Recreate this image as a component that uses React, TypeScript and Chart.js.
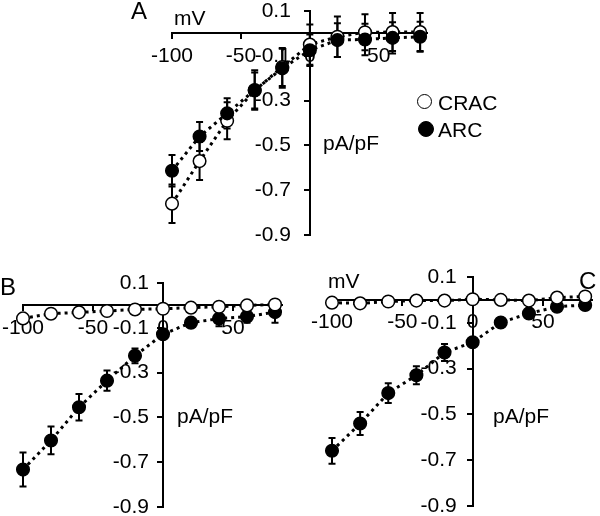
import React, { useEffect, useRef } from "react";
import { Chart, registerables } from "chart.js";

Chart.register(...registerables);

// ---------- data ----------
const voltages = [-100, -80, -60, -40, -20, 0, 20, 40, 60, 80];
const xTicks = [-100, -50, 0, 50];
const yTicks = [0.1, -0.1, -0.3, -0.5, -0.7, -0.9];
const seriesNames = ["CRAC", "ARC"];

// Panel A
const cracA = [-0.76, -0.57, -0.39, -0.255, -0.15, -0.05, -0.015, 0.005, 0.006, 0.006];
const cracAErr = [0.086, 0.085, 0.083, 0.08, 0.085, 0.09, 0.09, 0.08, 0.085, 0.085];
const arcA = [-0.613, -0.46, -0.357, -0.253, -0.156, -0.075, -0.03, -0.027, -0.02, -0.015];
const arcAErr = [0.07, 0.065, 0.067, 0.088, 0.087, 0.07, 0.075, 0.07, 0.07, 0.067];

// Panel B
const cracB = [-0.058, -0.037, -0.031, -0.025, -0.018, -0.015, -0.01, -0.006, 0.0, 0.004];
const cracBErr = [0.01, 0.01, 0.01, 0.015, 0.01, 0.01, 0.01, 0.01, 0.01, 0.01];
const arcB = [-0.733, -0.603, -0.455, -0.336, -0.225, -0.129, -0.077, -0.059, -0.05, -0.03];
const arcBErr = [0.076, 0.062, 0.059, 0.045, 0.033, 0.02, 0.02, 0.034, 0.027, 0.047];

// Panel C
const cracC = [-0.012, -0.015, -0.007, -0.003, -0.003, 0.003, 0.0, -0.003, 0.01, 0.015];
const cracCErr = [0.008, 0.008, 0.008, 0.008, 0.008, 0.008, 0.008, 0.008, 0.008, 0.008];
const arcC = [-0.659, -0.54, -0.407, -0.329, -0.23, -0.185, -0.099, -0.059, -0.03, -0.022];
const arcCErr = [0.056, 0.05, 0.043, 0.039, 0.037, 0.015, 0.01, 0.02, 0.015, 0.01];

const FONT = "'Liberation Sans', Arial, Helvetica, sans-serif";

// ---------- error bars plugin ----------
const errorBarPlugin = {
  id: "errorBars",
  beforeDatasetsDraw(chart: any) {
    const ctx = chart.ctx;
    const xs = chart.scales.x;
    const ys = chart.scales.y;
    chart.data.datasets.forEach((ds: any) => {
      const errs = ds.errorBars;
      if (!errs) return;
      ctx.save();
      ctx.strokeStyle = "#000";
      ctx.lineWidth = 2;
      ds.data.forEach((p: any, i: number) => {
        const e = errs[i];
        const px = xs.getPixelForValue(p.x);
        const top = ys.getPixelForValue(p.y + e);
        const bot = ys.getPixelForValue(p.y - e);
        ctx.beginPath();
        ctx.moveTo(px, top);
        ctx.lineTo(px, bot);
        ctx.moveTo(px - 3.5, top);
        ctx.lineTo(px + 3.5, top);
        ctx.moveTo(px - 3.5, bot);
        ctx.lineTo(px + 3.5, bot);
        ctx.stroke();
      });
      ctx.restore();
    });
  },
};

// Place the y tick labels to the left of the centred y axis, right aligned.
const yLabelPlugin = {
  id: "yLabelPlacement",
  beforeDraw(chart: any, _args: any, opts: any) {
    const ys = chart.scales.y;
    const axisX = chart.scales.x.getPixelForValue(0);
    const gap = opts && typeof opts.gap === "number" ? opts.gap : 15;
    const items = ys.getLabelItems();
    items.forEach((it: any) => {
      it.options.textAlign = "right";
      it.options.translation = [axisX - gap, it.options.translation[1]];
    });
  },
};

type Series = { name: string; values: number[]; errors: number[]; filled: boolean };
type Panel = {
  padding: { left: number; right: number; top: number; bottom: number };
  labelGap: number;
  series: Series[];
};

const panels: Panel[] = [
  {
    padding: { left: 172, right: 173, top: 11, bottom: 281 },
    labelGap: 19,
    series: [
      { name: seriesNames[1], values: arcA, errors: arcAErr, filled: true },
      { name: seriesNames[0], values: cracA, errors: cracAErr, filled: false },
    ],
  },
  {
    padding: { left: 23, right: 318, top: 283, bottom: 9 },
    labelGap: 14,
    series: [
      { name: seriesNames[0], values: cracB, errors: cracBErr, filled: false },
      { name: seriesNames[1], values: arcB, errors: arcBErr, filled: true },
    ],
  },
  {
    padding: { left: 332, right: 7, top: 277, bottom: 10 },
    labelGap: 16,
    series: [
      { name: seriesNames[0], values: cracC, errors: cracCErr, filled: false },
      { name: seriesNames[1], values: arcC, errors: arcCErr, filled: true },
    ],
  },
];

function zeroSize(scale: any) {
  if (scale.isHorizontal()) scale.height = 0;
  else scale.width = 0;
  scale.paddingLeft = 0;
  scale.paddingRight = 0;
  scale.paddingTop = 0;
  scale.paddingBottom = 0;
}

function makeConfig(p: Panel): any {
  const tickFont = { family: FONT, size: 21 };
  return {
    type: "line",
    data: {
      datasets: p.series.map((s) => ({
        label: s.name,
        data: voltages.map((v, i) => ({ x: v, y: s.values[i] })),
        errorBars: s.errors,
        borderColor: "#000",
        borderWidth: 3,
        borderDash: [3, 4],
        pointRadius: 6.3,
        pointHoverRadius: 6.3,
        pointBackgroundColor: s.filled ? "#000" : "#fff",
        pointBorderColor: "#000",
        pointBorderWidth: 1.5,
        fill: false,
        tension: 0,
        clip: false,
      })),
    },
    options: {
      responsive: false,
      animation: false,
      events: [],
      layout: { padding: p.padding },
      plugins: {
        legend: { display: false },
        tooltip: { enabled: false },
        title: { display: false },
        yLabelPlacement: { gap: p.labelGap },
      },
      scales: {
        x: {
          type: "linear",
          min: -100,
          max: 85,
          position: { y: 0 },
          afterBuildTicks: (s: any) => {
            s.ticks = xTicks.map((v) => ({ value: v }));
          },
          afterFit: zeroSize,
          grid: { display: true, drawOnChartArea: false, drawTicks: true, tickLength: 5, color: "#000", lineWidth: 2 },
          border: { display: true, color: "#000", width: 2 },
          ticks: {
            autoSkip: false,
            maxRotation: 0,
            padding: 5,
            color: "#000",
            font: tickFont,
            callback: (v: any) => String(v),
          },
        },
        y: {
          type: "linear",
          min: -0.9,
          max: 0.1,
          position: { x: 0 },
          afterBuildTicks: (s: any) => {
            s.ticks = yTicks.map((v) => ({ value: v }));
          },
          afterFit: zeroSize,
          grid: { display: true, drawOnChartArea: false, drawTicks: true, tickLength: 5, color: "#000", lineWidth: 2 },
          border: { display: true, color: "#000", width: 2 },
          ticks: {
            autoSkip: false,
            padding: 0,
            color: "#000",
            font: tickFont,
            callback: (v: any) => String(v),
          },
        },
      },
    },
    plugins: [errorBarPlugin, yLabelPlugin],
  };
}

function PanelChart({ panel }: { panel: Panel }) {
  const ref = useRef<HTMLCanvasElement>(null);
  useEffect(() => {
    if (!ref.current) return;
    const chart = new Chart(ref.current, makeConfig(panel));
    return () => chart.destroy();
  }, [panel]);
  return (
    <canvas
      ref={ref}
      width={600}
      height={516}
      style={{ position: "absolute", left: 0, top: 0, width: 600, height: 516 }}
    />
  );
}

const txt = (left: number, top: number, size: number): React.CSSProperties => ({
  position: "absolute",
  left,
  top,
  fontFamily: FONT,
  fontSize: size,
  lineHeight: `${size}px`,
  color: "#000",
  whiteSpace: "nowrap",
});

const circle = (cx: number, cy: number, r: number, filled: boolean): React.CSSProperties => ({
  position: "absolute",
  left: cx - r,
  top: cy - r,
  width: 2 * r,
  height: 2 * r,
  boxSizing: "border-box",
  borderRadius: "50%",
  border: "1.8px solid #000",
  background: filled ? "#000" : "#fff",
});

export default function App() {
  return (
    <div style={{ position: "absolute", left: 0, top: 0, width: 600, height: 516, background: "#fff", overflow: "hidden" }}>
      {panels.map((p, i) => (
        <PanelChart key={i} panel={p} />
      ))}
      {/* Panel A annotations */}
      <div style={txt(131, -1, 24)}>A</div>
      <div style={txt(174, 7, 21)}>mV</div>
      <div style={txt(323, 132, 21)}>pA/pF</div>
      {/* legend */}
      <div style={circle(424.5, 101, 7.5, false)} />
      <div style={txt(438, 92, 21)}>{seriesNames[0]}</div>
      <div style={circle(426, 128.5, 8, true)} />
      <div style={txt(438, 119, 21)}>{seriesNames[1]}</div>
      {/* Panel B annotations */}
      <div style={txt(0, 275, 24)}>B</div>
      <div style={txt(177, 405, 21)}>pA/pF</div>
      {/* Panel C annotations */}
      <div style={txt(328, 270, 21)}>mV</div>
      <div style={txt(579, 269, 24)}>C</div>
      <div style={txt(493, 405, 21)}>pA/pF</div>
    </div>
  );
}
